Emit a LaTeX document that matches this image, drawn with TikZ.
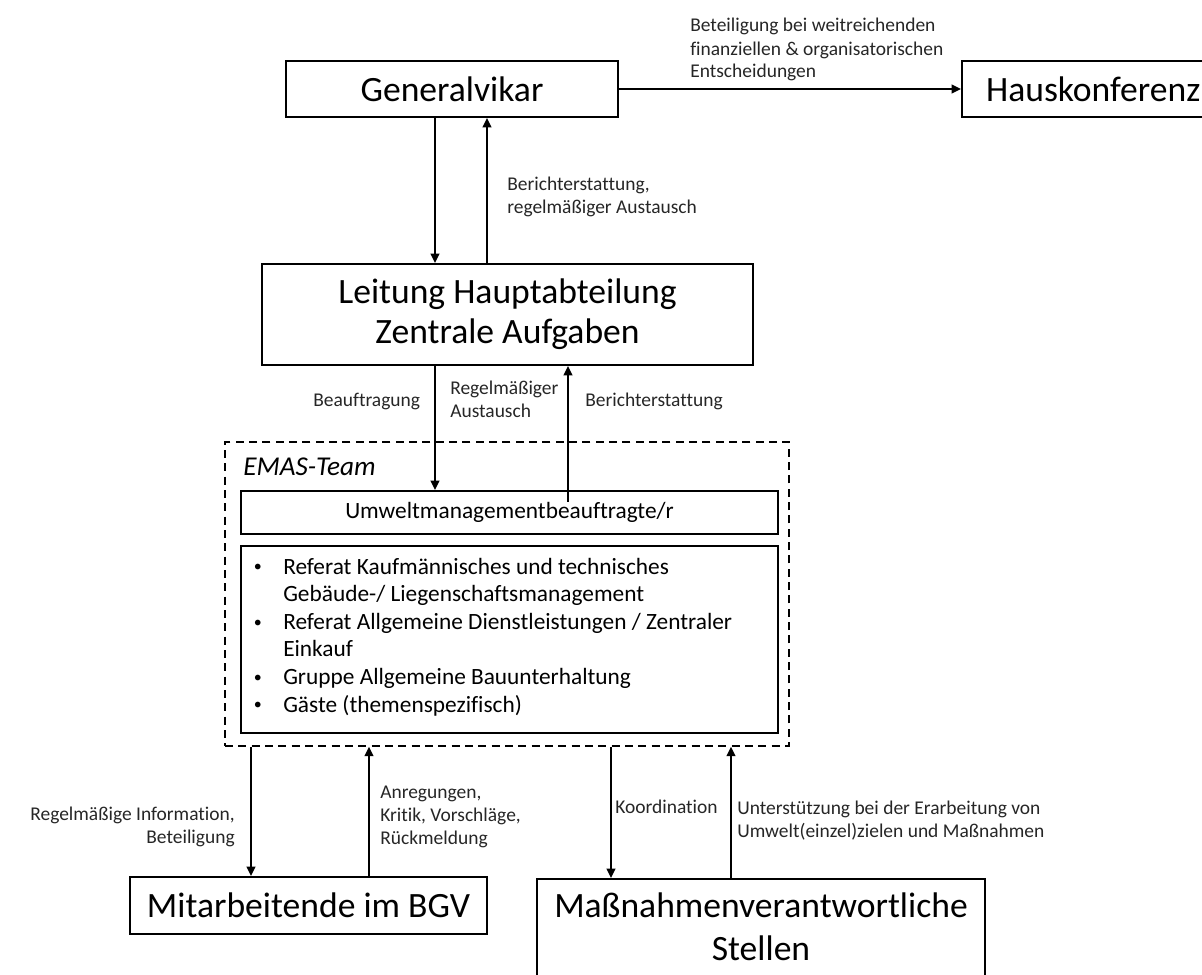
\documentclass[tikz,border=0pt]{standalone}
\usepackage{fontspec}
\setmainfont{Carlito}[Ligatures=NoCommon]
\usetikzlibrary{arrows.meta,calc}
\def\PX{0.75pt}
\newcommand\multiline[2][l]{\begin{tabular}[t]{@{}#1@{}}#2\end{tabular}}
\newcommand\bulletmark{\makebox[24pt][l]{\hspace{2pt}\raisebox{1.6pt}{\fontsize{12pt}{12pt}\selectfont •}}}
\tikzset{
  box/.style={draw, line width=1.6pt, rectangle, inner sep=0pt},
  big/.style={font=\fontsize{26.7pt}{30pt}\selectfont},
  med/.style={font=\fontsize{17.5pt}{20.7pt}\selectfont},
  small/.style={font=\fontsize{14.6pt}{17.25pt}\selectfont, inner sep=0pt, text=black!85},
  arr/.style={line width=1.4pt, -{Triangle[length=7pt,width=6.5pt]}},
  dashedbox/.style={draw, line width=1.1pt, dash pattern=on 6pt off 4pt, inner sep=0pt},
}
\begin{document}
\begin{tikzpicture}[x=0.75pt,y=-0.75pt]
\useasboundingbox (0,0) rectangle (1202,974);

% boxes
\node[box, big, minimum width=332*\PX, minimum height=56*\PX] (gv) at (452,89) {Generalvikar};
\node[box, big, anchor=west, minimum height=56*\PX, text width=330*\PX, inner xsep=24*\PX, inner ysep=0pt, align=left] (haus) at (961,89) {Hauskonferenz};
\node[box, big, align=center, minimum width=491*\PX, minimum height=101*\PX] (leit) at (507.5,314.5) {Leitung Hauptabteilung\\Zentrale Aufgaben};
\node[dashedbox, minimum width=564*\PX, minimum height=304*\PX] (emas) at (507,594) {};
\node[anchor=base west, inner sep=0pt, font=\fontsize{20.4pt}{23pt}\selectfont\itshape] (emastitle) at (243,475) {EMAS-Team};
\node[box, med, minimum width=537*\PX, minimum height=43*\PX] (umw) at (509.5,512.5) {Umweltmanagementbeauftragte/r};
\node[box, minimum width=537*\PX, minimum height=187*\PX] (bul) at (509.5,639.5) {};
\node[med, anchor=base west, inner sep=0pt] (bultxt) at (251,574) {\begin{tabular}[t]{@{}l@{}l@{}}
\bulletmark & Referat Kaufmännisches und technisches\\
 & Gebäude-/ Liegenschaftsmanagement\\
\bulletmark & Referat Allgemeine Dienstleistungen / Zentraler\\
 & Einkauf\\
\bulletmark & Gruppe Allgemeine Bauunterhaltung\\
\bulletmark & Gäste (themenspezifisch)
\end{tabular}};
\node[box, big, minimum width=357*\PX, minimum height=57*\PX] (mit) at (308.5,905.5) {Mitarbeitende im BGV};
\node[box, anchor=north, minimum width=448*\PX, minimum height=140*\PX] (mas) at (761,878) {};
\node[big, anchor=base, inner sep=0pt] (mas1) at (761,917) {Maßnahmenverantwortliche};
\node[big, anchor=base, inner sep=0pt] (mas2) at (761,960) {Stellen};

% x positions of connectors
\coordinate (c435) at (435,0);
\coordinate (c487) at (487,0);
\coordinate (c568) at (568,0);
\coordinate (c251) at (251,0);
\coordinate (c369) at (369,0);
\coordinate (c611) at (611,0);
\coordinate (c731) at (731,0);

% connectors
\draw[arr] (gv.east) -- (haus.west);
\draw[arr] (gv.south -| c435) -- (leit.north -| c435);
\draw[arr] (leit.north -| c487) -- (gv.south -| c487);
\draw[arr] (leit.south -| c435) -- (umw.north -| c435);
\draw[arr] ($(umw.north -| c568)+(0,12)$) -- (leit.south -| c568);
\draw[arr] (emas.south -| c251) -- (mit.north -| c251);
\draw[arr] (mit.north -| c369) -- (emas.south -| c369);
\draw[arr] (emas.south -| c611) -- (mas.north -| c611);
\draw[arr] (mas.north -| c731) -- (emas.south -| c731);

% labels
\node[small, anchor=base west] (lhaus) at (690,32) {\multiline{Beteiligung bei weitreichenden\\finanziellen \& organisatorischen\\Entscheidungen}};
\node[small, anchor=base west] (lber) at (507,190) {\multiline{Berichterstattung,\\regelmäßiger Austausch}};
\node[small, anchor=base west] (lbeauf) at (313,406) {Beauftragung};
\node[small, anchor=base west] (lregel) at (450,394) {\multiline{Regelmäßiger\\Austausch}};
\node[small, anchor=base west] (lberi) at (585,406) {Berichterstattung};
\node[small, anchor=base east] (linfo) at (235,820) {\multiline[r]{Regelmäßige Information,\\Beteiligung}};
\node[small, anchor=base west] (lanr) at (380,798) {\multiline{Anregungen,\\Kritik, Vorschläge,\\Rückmeldung}};
\node[small, anchor=base west] (lkoord) at (615,813) {Koordination};
\node[small, anchor=base west] (lunt) at (737,814) {\multiline{Unterstützung bei der Erarbeitung von\\Umwelt(einzel)zielen und Maßnahmen}};
\end{tikzpicture}
\end{document}
